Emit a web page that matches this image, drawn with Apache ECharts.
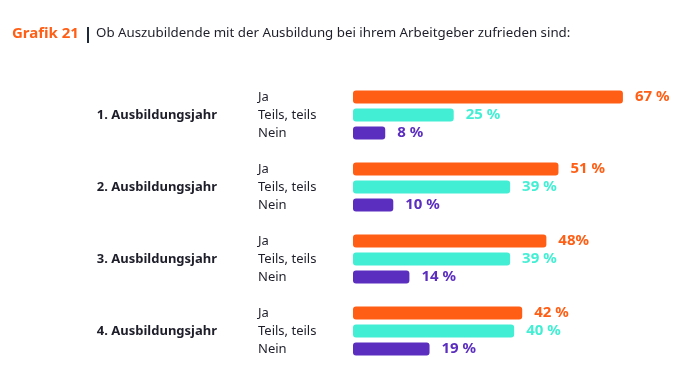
<!DOCTYPE html>
<html><head><meta charset="utf-8">
<script src="https://cdn.jsdelivr.net/npm/echarts@6/dist/echarts.min.js"></script>
<style>html,body{margin:0;padding:0;background:#fff}#c{width:675px;height:392px}</style>
</head><body><div id="c"></div>
<script>
const groups = ['1. Ausbildungsjahr', '2. Ausbildungsjahr', '3. Ausbildungsjahr', '4. Ausbildungsjahr'];
const answers = ['Ja', 'Teils, teils', 'Nein'];
const ja = [67, 51, 48, 42];
const teils = [25, 39, 39, 40];
const nein = [8, 10, 14, 19];
const jaLabels = ['67 %', '51 %', '48%', '42 %'];
const teilsLabels = ['25 %', '39 %', '39 %', '40 %'];
const neinLabels = ['8 %', '10 %', '14 %', '19 %'];
const colors = ['#FF5E14', '#43EFD4', '#5B2EBF'];

const cats = [], groupCats = [], data = [];
groups.forEach((g, gi) => {
  const vals = [ja[gi], teils[gi], nein[gi]];
  const labs = [jaLabels[gi], teilsLabels[gi], neinLabels[gi]];
  answers.forEach((a, ai) => {
    cats.push(a + '#' + gi);
    groupCats.push(ai === 1 ? g : '');
    data.push({
      value: vals[ai],
      itemStyle: { color: colors[ai] },
      label: { color: colors[ai], formatter: labs[ai] }
    });
  });
  if (gi < groups.length - 1) {
    cats.push('gap' + gi);
    groupCats.push('');
    data.push('-');
  }
});

const chart = echarts.init(document.getElementById('c'), null, { renderer: 'canvas' });
const font = '"Noto Sans", "Open Sans", sans-serif';
chart.setOption({
  animation: false,
  textStyle: { fontFamily: font },
  graphic: [
    { type: 'text', left: 12, top: 26, style: { text: 'Grafik 21', fill: '#FF5E14', font: 'bold 15px ' + font } },
    { type: 'rect', left: 87, top: 27, shape: { width: 2, height: 16 }, style: { fill: '#1E2A3A' } },
    { type: 'text', left: 96, top: 27, style: { text: 'Ob Auszubildende mit der Ausbildung bei ihrem Arbeitgeber zufrieden sind:', fill: '#1E1E2A', font: '13.3px ' + font } }
  ],
  grid: { left: 353, right: 40, top: 88, height: 270 },
  xAxis: { type: 'value', min: 0, max: 70, show: false },
  yAxis: [
    {
      type: 'category', data: cats, inverse: true,
      axisLine: { show: false }, axisTick: { show: false },
      axisLabel: {
        align: 'left', margin: 95, color: '#1E1E2A', fontSize: 13, fontFamily: font,
        formatter: v => v.startsWith('gap') ? '' : v.split('#')[0]
      }
    },
    {
      type: 'category', data: groupCats.map((g, i) => g + '\u200b'.repeat(i)), inverse: true, position: 'left',
      axisLine: { show: false }, axisTick: { show: false },
      axisLabel: {
        align: 'right', margin: 136, color: '#1E1E2A', fontSize: 13, fontWeight: 'bold', fontFamily: font,
        formatter: v => v.replace(/\u200b/g, '')
      }
    }
  ],
  series: [{
    type: 'bar', yAxisIndex: 0, data: data, barWidth: 13,
    itemStyle: { borderRadius: 3 },
    label: { show: true, position: 'right', distance: 12, fontSize: 15, fontWeight: 'bold', fontFamily: font }
  }]
});
</script></body></html>
